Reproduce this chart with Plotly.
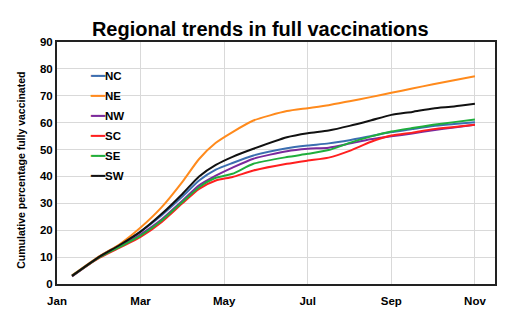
import plotly.graph_objects as go

# x positions in months since Jan 1 (0 = Jan, 2 = Mar, ...)
months = [0.36, 1.0, 1.5, 2.0, 2.5, 3.0, 3.4, 3.8, 4.2, 4.7, 5.5, 6.0, 6.5, 7.0, 7.5, 8.0, 8.5, 9.0, 9.5, 10.0]

NC = [3.1, 10.1, 14.6, 19.5, 25.5, 32.5, 38.5, 42.5, 45.0, 47.8, 50.5, 51.5, 52.3, 53.5, 55.0, 56.5, 57.6, 58.8, 59.5, 60.2]
NE = [3.2, 10.2, 14.8, 21.0, 28.5, 38.0, 46.5, 52.5, 56.5, 60.8, 64.3, 65.4, 66.5, 68.0, 69.5, 71.1, 72.7, 74.3, 75.8, 77.3]
NW = [2.8, 9.8, 14.0, 18.5, 24.0, 31.0, 36.7, 40.3, 43.3, 46.6, 49.4, 50.3, 50.7, 52.2, 53.8, 54.9, 56.0, 57.2, 58.2, 59.2]
SC = [3.0, 9.6, 13.5, 17.5, 23.0, 30.0, 35.4, 38.5, 39.8, 42.2, 44.7, 45.9, 47.0, 49.5, 52.8, 55.2, 56.3, 57.6, 58.4, 59.2]
SE = [3.0, 9.8, 13.8, 18.0, 23.5, 30.5, 36.0, 39.5, 41.0, 44.7, 47.2, 48.4, 49.8, 52.5, 54.8, 56.7, 58.0, 59.2, 60.2, 61.2]
SW = [3.0, 10.0, 14.5, 19.5, 26.0, 33.5, 40.0, 44.3, 47.3, 50.3, 54.6, 56.1, 57.1, 58.8, 60.8, 62.9, 64.0, 65.3, 66.0, 67.0]

regions = ["NC", "NE", "NW", "SC", "SE", "SW"]
series = [NC, NE, NW, SC, SE, SW]
colors = ["#3b6eb0", "#ff8a1c", "#7a2a9c", "#ff1f1f", "#1fae3c", "#111111"]

tick_vals = [0, 2, 4, 6, 8, 10]
tick_text = ["Jan", "Mar", "May", "Jul", "Sep", "Nov"]

FONT = "Liberation Sans, Arial, sans-serif"

fig = go.Figure()
for name, vals, col in zip(regions, series, colors):
    fig.add_trace(go.Scatter(x=months, y=vals, mode="lines", name=name,
                             line=dict(color=col, width=2, shape="spline", smoothing=0.6),
                             showlegend=False))

# manual legend (short line + bold label), stacked top-left inside plot
annotations = []
for i, (name, col) in enumerate(zip(regions, colors)):
    yp = 0.86 - i * 0.083
    annotations.append(dict(xref="paper", yref="paper", x=0.07, y=yp, xanchor="left", yanchor="middle",
                            text=f"<span style='color:{col}'>━━</span><b>{name}</b>",
                            showarrow=False, font=dict(family=FONT, size=11.5, color="black")))

# y-axis title as a rotated annotation to match its slightly lowered position
annotations.append(dict(xref="paper", yref="paper", x=-0.081, y=0.47, xanchor="center", yanchor="middle",
                        textangle=-90, showarrow=False,
                        text="<b>Cumulative percentage fully vaccinated</b>",
                        font=dict(family=FONT, size=10.5, color="black")))

fig.update_layout(
    width=528, height=332,
    margin=dict(l=57, r=33, t=42, b=48),
    paper_bgcolor="white", plot_bgcolor="white",
    title=dict(text="<b>Regional trends in full vaccinations</b>", x=0.493, xanchor="center",
               y=0.893, yanchor="bottom", font=dict(family=FONT, size=20, color="black")),
    font=dict(family=FONT, color="black"),
    annotations=annotations,
    xaxis=dict(range=[0, 10.48], tickvals=tick_vals, ticktext=tick_text,
               tickfont=dict(family=FONT, size=11.5, color="black", weight="bold"),
               showgrid=True, gridcolor="#d9d9d9", gridwidth=1,
               showline=True, linecolor="#222222", linewidth=2, mirror=True,
               zeroline=False, ticks="", ticklabelstandoff=5),
    yaxis=dict(range=[0, 90], dtick=10,
               tickfont=dict(family=FONT, size=11.5, color="black", weight="bold"),
               showgrid=True, gridcolor="#d9d9d9", gridwidth=1,
               showline=True, linecolor="#222222", linewidth=2, mirror=True,
               zeroline=False, ticks=""),
)

fig.write_html("out.html")
